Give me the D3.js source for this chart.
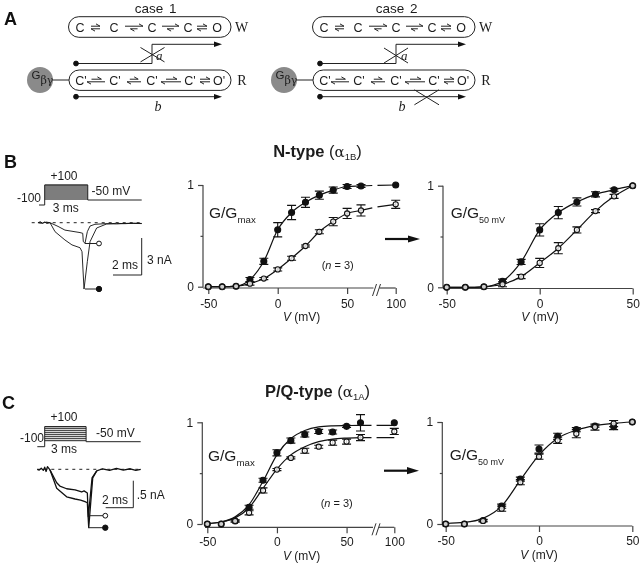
<!DOCTYPE html>
<html>
<head>
<meta charset="utf-8">
<script src="https://cdn.jsdelivr.net/npm/d3@7"></script>
<style>
  html, body { margin: 0; padding: 0; background: #fff; }
  svg { display: block; filter: blur(0.35px); }
  text { font-family: "Liberation Sans", Arial, sans-serif; fill: #1c1c1c; }
  .serif { font-family: "Liberation Serif", "Times New Roman", serif; }
  .panel-label { font-size: 18px; font-weight: bold; fill: #111; }
  .axis text { font-size: 12px; }
  .axis path { display: none; }
  .axis line, .axis-line { stroke: #444; stroke-width: 1.2; }
  .pill { fill: #fff; stroke: #222; stroke-width: 1; }
  .route { fill: none; stroke: #222; stroke-width: 1; }
</style>
</head>
<body>
<svg id="chart" width="640" height="563" viewBox="0 0 640 563"></svg>
<script>
// G/Gmax voltages, 60 -> 100 mV sits across an axis break
const voltsMax = [-50, -40, -30, -20, -10, 0, 10, 20, 30, 40, 50, 60, 100];
const volts50 = [-50, -40, -30, -20, -10, 0, 10, 20, 30, 40, 50];
const axisTicksMax = [-50, 0, 50, 100];
const axisTicks50 = [-50, 0, 50];
const yTicks = [0, 0.5, 1];

// panel B, N-type
const nMaxClosed = [0, 0, 0.005, 0.07, 0.25, 0.56, 0.73, 0.83, 0.9, 0.95, 0.985, 0.99, 1];
const nMaxClosedErr = [0, 0, 0, 0.02, 0.03, 0.07, 0.07, 0.05, 0.04, 0.03, 0.02, 0.015, 0];
const nMaxOpen = [0, 0, 0.005, 0.03, 0.08, 0.17, 0.28, 0.4, 0.54, 0.64, 0.72, 0.75, 0.81];
const nMaxOpenErr = [0, 0, 0, 0.015, 0.01, 0.015, 0.02, 0.01, 0.02, 0.04, 0.05, 0.055, 0.04];
const n50Closed = [0, 0, 0.005, 0.06, 0.25, 0.565, 0.735, 0.84, 0.915, 0.96, 1];
const n50ClosedErr = [0, 0, 0, 0.02, 0.025, 0.06, 0.06, 0.04, 0.025, 0.015, 0];
const n50Open = [0, 0, 0.005, 0.03, 0.105, 0.24, 0.385, 0.565, 0.75, 0.895, 1];
const n50OpenErr = [0, 0, 0, 0.025, 0.02, 0.045, 0.055, 0.03, 0.015, 0.02, 0];

// panel C, P/Q-type
const pMaxClosed = [0, 0, 0.03, 0.165, 0.43, 0.7, 0.82, 0.88, 0.91, 0.905, 0.96, 0.995, 0.995];
const pMaxClosedErr = [0, 0, 0.01, 0.02, 0.02, 0.03, 0.025, 0.025, 0.02, 0.02, 0.01, 0.08, 0];
const pMaxOpen = [0, 0, 0.03, 0.11, 0.33, 0.535, 0.65, 0.72, 0.76, 0.8, 0.81, 0.85, 0.91];
const pMaxOpenErr = [0, 0, 0.01, 0.02, 0.025, 0.01, 0.01, 0.025, 0.015, 0.025, 0.025, 0.03, 0.03];
const p50Closed = [0, 0, 0.035, 0.175, 0.44, 0.735, 0.86, 0.925, 0.96, 0.955, 1];
const p50ClosedErr = [0, 0, 0.01, 0.02, 0.02, 0.04, 0.03, 0.02, 0.01, 0.03, 0];
const p50Open = [0, 0, 0.03, 0.15, 0.41, 0.66, 0.82, 0.885, 0.95, 0.985, 1];
const p50OpenErr = [0, 0, 0.01, 0.025, 0.025, 0.025, 0.03, 0.04, 0.03, 0.03, 0];

// drawn fit curves, null = gap at the axis break
const fitVoltsMax = [-50, -40, -30, -20, -10, 0, 10, 20, 30, 40, 50, 60, 73, 75, 79, 100];
const fitNClosed = [0, 0, 0.005, 0.07, 0.25, 0.56, 0.73, 0.83, 0.9, 0.95, 0.985, 0.99, 0.995, null, 0.997, 1];
const fitNOpen = [0, 0, 0.005, 0.03, 0.08, 0.17, 0.28, 0.4, 0.54, 0.64, 0.72, 0.75, 0.775, null, 0.785, 0.81];
const fitPClosed = [0.005, 0.02, 0.07, 0.19, 0.42, 0.68, 0.84, 0.92, 0.955, 0.965, 0.968, 0.97, 0.97, null, 0.97, 0.97];
const fitPOpen = [0.005, 0.02, 0.06, 0.16, 0.35, 0.54, 0.68, 0.76, 0.81, 0.835, 0.845, 0.85, 0.85, null, 0.85, 0.85];
const fitP50 = [0.005, 0.015, 0.055, 0.175, 0.43, 0.675, 0.84, 0.92, 0.965, 0.987, 1];

// current traces, ms after step onset and nA of inward current
const traceNClosedT = [-0.47, -0.3, -0.15, 0, 0.15, 0.37, 0.72, 1.41, 1.9, 2.46, 2.6, 2.74, 2.97, 3.16, 3.62, 4.32, 5, 5.6, 6.2, 6.76];
const traceNClosedI = [0, -0.08, 0.05, -0.06, 0.06, 0, 0.73, 1.4, 1.8, 2.03, 2.35, 5.38, 3.16, 1.54, 0.43, 0.1, 0.05, 0.08, 0.04, 0.06];
const traceNOpenT = [-0.47, -0.2, 0.1, 0.37, 0.93, 1.41, 2.46, 2.65, 2.69, 2.81, 2.97, 3.16, 3.5, 4.2, 5, 5.8, 6.76];
const traceNOpenI = [0, 0.05, -0.05, 0, 0.3, 0.6, 0.8, 0.86, 1.54, 1.67, 0.73, 0.27, 0.13, 0.08, 0.1, 0.05, 0.07];
const tracePClosedT = [-0.54, -0.4, -0.25, -0.1, 0, 0.1, 0.2, 0.38, 0.87, 1.1, 1.59, 2.2, 2.6, 2.92, 3.09, 3.19, 3.48, 3.77, 4.2, 4.7, 5.2, 5.7, 6.2, 6.6, 6.96];
const tracePClosedI = [0, 0.015, -0.02, 0.02, -0.04, 0.04, -0.05, 0.01, 0.35, 0.4, 0.51, 0.55, 0.57, 0.6, 0.62, 1.08, 0.16, 0.03, -0.01, 0.02, -0.015, 0.015, -0.01, 0.02, 0];
const tracePOpenT = [0.38, 0.87, 1.1, 1.59, 2.2, 2.68, 2.85, 3.09, 3.16, 3.43, 3.77];
const tracePOpenI = [0.01, 0.25, 0.31, 0.36, 0.38, 0.42, 0.4, 0.44, 0.88, 0.16, 0.03];
const stepVoltages = [100, 80, 60, 40, 20, 0, -20, -40];

const svg = d3.select('#chart');

function txt(parent, x, y, str, size, anchor) {
  return parent.append('text').attr('x', x).attr('y', y).attr('font-size', size)
    .attr('text-anchor', anchor || 'start').text(str);
}

function dot(parent, x, y, r, filled) {
  parent.append('circle').attr('cx', x).attr('cy', y).attr('r', r)
    .attr('fill', filled ? '#111' : '#fff').attr('stroke', '#111').attr('stroke-width', 1);
}

function arrowHead(parent, x, y, len, half) {
  parent.append('path').attr('d', `M${x},${y}L${x - len},${y - half}L${x - len},${y + half}Z`).attr('fill', '#111');
}

function cross(parent, cx, cy, w, h) {
  parent.append('path').attr('class', 'route').attr('stroke-width', 1.2)
    .attr('d', `M${cx - w},${cy - h}L${cx + w},${cy + h}M${cx - w},${cy + h}L${cx + w},${cy - h}`);
}

// each step: x range, top harpoon start, bottom harpoon right end and left tip (fractions of the range)
function schemeRow(g, y, labels, labelXs, steps) {
  labels.forEach((l, i) => txt(g, labelXs[i], y + 4.5, l, 12.5, 'middle'));
  steps.forEach(([x1, x2, topFrom, topTo, botRight, botLeft]) => {
    const w = x2 - x1;
    g.append('path').attr('fill', 'none').attr('stroke', '#222').attr('stroke-width', 1)
      .attr('d', `M${x1 + w * topFrom},${y - 1.3}H${x1 + w * topTo}l-4,-2.3`
        + `M${x1 + w * botRight},${y + 1.3}H${x1 + w * botLeft}l4,2.3`);
  });
}

function drawScheme(dx, caseLabel, labelDx, crossA, crossB, bLabelX, aLabelX) {
  const g = svg.append('g').attr('transform', `translate(${dx},0)`);
  txt(g, 155.7 + labelDx, 13, caseLabel, 13.5, 'middle').attr('word-spacing', 2);
  g.append('rect').attr('class', 'pill').attr('x', 68.5).attr('y', 16.7).attr('width', 162.5).attr('height', 20.6).attr('rx', 10.3);
  g.append('rect').attr('class', 'pill').attr('x', 69).attr('y', 70).attr('width', 162).attr('height', 20.4).attr('rx', 10.2);
  schemeRow(g, 27.5, ['C', 'C', 'C', 'C', 'O'], [80, 114, 152, 188, 217],
    [[91, 100, 0, 1, 1, 0], [125, 143, 0, 1, 0.7, 0.3], [162, 179, 0, 1, 0.7, 0.3], [197, 207, 0, 1, 1, 0]]);
  schemeRow(g, 80.5, ["C'", "C'", "C'", "C'", "O'"], [81, 115, 152, 190, 219],
    [[87, 105, 0.25, 0.8, 1, 0], [127, 141, 0.2, 0.8, 1, 0], [161, 181, 0.25, 0.8, 1, 0], [200, 210, 0, 1, 1, 0]]);
  txt(g, 241.5, 32, 'W', 14, 'middle').attr('class', 'serif');
  txt(g, 242, 85, 'R', 14, 'middle').attr('class', 'serif');

  // pathway a
  g.append('path').attr('class', 'route').attr('d', 'M76,63.5H152V44.3H218');
  arrowHead(g, 222, 44.3, 8, 2.8);
  dot(g, 76, 63.5, 2.4, true);
  txt(g, aLabelX, 60, 'a', 13).attr('class', 'serif').attr('font-style', 'italic');
  cross(g, crossA[0], crossA[1], crossA[2], crossA[3]);

  // pathway b
  g.append('path').attr('class', 'route').attr('d', 'M76,96.7H218');
  arrowHead(g, 222, 96.7, 8, 2.8);
  dot(g, 76, 96.7, 2.4, true);
  txt(g, bLabelX, 111, 'b', 14, 'middle').attr('class', 'serif').attr('font-style', 'italic');
  if (crossB) cross(g, crossB[0], crossB[1], crossB[2], crossB[3]);

  // G protein
  g.append('line').attr('x1', 52).attr('x2', 69).attr('y1', 80).attr('y2', 80).attr('stroke', '#222');
  g.append('circle').attr('cx', 40).attr('cy', 80).attr('r', 13).attr('fill', '#8a8a8a');
  const gb = g.append('text').attr('x', 31.5).attr('y', 79).attr('font-size', 11.5).text('G');
  gb.append('tspan').attr('dy', 5).attr('font-size', 11).attr('font-family', 'DejaVu Serif').text('βγ');
}

function drawCurves(o) {
  const g = svg.append('g');
  const x = d3.scaleLinear().domain(o.xDomain).range(o.xRange);
  const y = d3.scaleLinear().domain([0, 1]).range([o.y0, o.y1]);

  const xAxis = g.append('g').attr('class', 'axis')
    .attr('transform', `translate(0,${o.axisY})`)
    .call(d3.axisBottom(x).tickValues(o.xTicks).tickSize(6).tickPadding(5).tickFormat((d) => String(d)));
  xAxis.selectAll('text').attr('dy', 0).attr('y', o.labelY - o.axisY);

  const yAxis = g.append('g').attr('class', 'axis')
    .attr('transform', `translate(${o.axisX},0)`)
    .call(d3.axisLeft(y).tickValues(yTicks).tickSize(5).tickPadding(4).tickFormat((d) => (d === 0.5 ? '' : d)));
  yAxis.selectAll('.tick').filter((d) => d === 0.5).select('line').attr('x2', -2.5);

  g.append('line').attr('class', 'axis-line').attr('x1', o.axisX).attr('x2', o.axisX).attr('y1', o.y1).attr('y2', o.y0 + 0.5);
  if (o.breakAt) {
    g.append('line').attr('class', 'axis-line').attr('x1', o.xStart).attr('x2', o.breakAt - 2).attr('y1', o.axisY).attr('y2', o.axisY);
    g.append('line').attr('class', 'axis-line').attr('x1', o.breakAt + 4).attr('x2', o.xRange[o.xRange.length - 1]).attr('y1', o.axisY).attr('y2', o.axisY);
    g.append('path').attr('fill', 'none').attr('stroke', '#333').attr('stroke-width', 1)
      .attr('d', `M${o.breakAt - 3},${o.axisY + 8}L${o.breakAt + 1},${o.axisY - 4}M${o.breakAt + 1},${o.axisY + 8}L${o.breakAt + 5},${o.axisY - 4}`);
  } else {
    g.append('line').attr('class', 'axis-line').attr('x1', o.xStart).attr('x2', o.xRange[o.xRange.length - 1]).attr('y1', o.axisY).attr('y2', o.axisY);
  }

  const line = d3.line()
    .defined((d) => d[1] !== null)
    .x((d) => x(d[0]))
    .y((d) => y(d[1]))
    .curve(d3.curveMonotoneX);
  o.fits.forEach((fit) => {
    g.append('path').attr('fill', 'none').attr('stroke', '#111').attr('stroke-width', 1.2)
      .attr('d', line(o.fitVolts.map((v, i) => [v, fit[i]])));
  });

  o.series.forEach((s) => {
    const pts = o.volts.map((v, i) => ({ v, m: s.values[i], e: s.errors[i] }));
    const marks = g.append('g');
    marks.selectAll('path.err').data(pts.filter((d) => d.e > 0)).join('path')
      .attr('class', 'err').attr('fill', 'none').attr('stroke', '#111').attr('stroke-width', 1.1)
      .attr('d', (d) => {
        const cx = x(d.v);
        const lo = y(d.m - d.e);
        const hi = y(d.m + d.e);
        return `M${cx - 4.5},${hi}H${cx + 4.5}M${cx},${hi}V${lo}M${cx - 4.5},${lo}H${cx + 4.5}`;
      });
    marks.selectAll('circle').data(pts).join('circle')
      .attr('cx', (d) => x(d.v))
      .attr('cy', (d) => y(d.m))
      .attr('r', s.filled ? 3 : 2.6)
      .attr('fill', s.filled ? '#111' : '#fff')
      .attr('fill-opacity', s.filled ? 1 : 0.8)
      .attr('stroke', '#111')
      .attr('stroke-width', 1.1);
  });

  // axis and ratio labels
  const vLabel = g.append('text').attr('x', o.vLabelX).attr('y', o.vLabelY).attr('text-anchor', 'middle').attr('font-size', 12);
  vLabel.append('tspan').attr('font-style', 'italic').text('V');
  vLabel.append('tspan').text(' (mV)');
  const ratio = g.append('text').attr('x', o.ratioX).attr('y', o.ratioY).attr('font-size', 15.5).text('G/G');
  ratio.append('tspan').attr('dy', 4.5).attr('font-size', o.subSize).text(o.sub);
  if (o.nLabel) {
    const n = g.append('text').attr('x', o.nLabel[0]).attr('y', o.nLabel[1]).attr('text-anchor', 'middle').attr('font-size', 11);
    n.append('tspan').text('(');
    n.append('tspan').attr('font-style', 'italic').text('n');
    n.append('tspan').text(' = 3)');
  }
}

function drawRecording(o) {
  const g = svg.append('g');
  const v = d3.scaleLinear().domain([-100, 100]).range([o.stimBase + 5, o.stimBase - 15]);
  const t = d3.scaleLinear().domain([0, 2]).range([44.7, 44.7 + o.pxPer2ms]);
  const amp = d3.scaleLinear().domain([0, 1]).range([o.baseY, o.baseY + o.pxPerNa]);

  // step protocol
  if (o.boxFill) {
    g.append('rect').attr('x', t(0)).attr('y', v(100)).attr('width', t(3) - t(0)).attr('height', v(-50) - v(100)).attr('fill', o.boxFill);
  }
  stepVoltages.forEach((s) => {
    g.append('line').attr('x1', t(0)).attr('x2', t(3)).attr('y1', v(s)).attr('y2', v(s)).attr('stroke', o.stripe).attr('stroke-width', 1);
  });
  g.append('path').attr('fill', 'none').attr('stroke', '#222').attr('stroke-width', 1)
    .attr('d', `M${o.stimStart},${v(-100)}H${t(0)}V${v(100)}H${t(3)}V${v(-50)}H${o.traceEnd}`);
  txt(g, 64, o.plusY, '+100', 12, 'middle');
  txt(g, o.minusX, o.minusY, '-100', 12);
  txt(g, o.fiftyX, o.fiftyY, '-50 mV', 12);
  txt(g, o.msX, o.msY, '3 ms', 12, 'middle');

  g.append('line').attr('x1', o.dashStart).attr('x2', o.traceEnd).attr('y1', o.baseY).attr('y2', o.baseY)
    .attr('stroke', '#222').attr('stroke-dasharray', '3,4');

  const trace = d3.line().x((d) => t(d[0])).y((d) => amp(d[1]));
  o.traces.forEach(([ts, is]) => {
    g.append('path').attr('fill', 'none').attr('stroke', '#111').attr('stroke-width', o.traceWidth)
      .attr('stroke-linejoin', 'round').attr('d', trace(ts.map((d, i) => [d, is[i]])));
  });

  // peak leaders
  g.append('path').attr('fill', 'none').attr('stroke', '#222').attr('d', `M${o.leadX},${o.openY}H${o.markX}M${o.leadX},${o.closedY}H${o.markX}`);
  dot(g, o.markX, o.openY, 2.4, false);
  dot(g, o.markX, o.closedY, 2.7, true);

  // scale bars
  g.append('path').attr('fill', 'none').attr('stroke', '#222')
    .attr('d', `M${o.barX},${o.barTop}V${o.barBottom}H${o.barX - o.pxPer2ms}`);
  txt(g, o.barMsX, o.barMsY, '2 ms', 12, 'middle');
  txt(g, o.naX, o.naY, o.naText, 12);
}

function bigArrow(x1, x2, y) {
  svg.append('line').attr('x1', x1).attr('x2', x2 - 8).attr('y1', y).attr('y2', y).attr('stroke', '#111').attr('stroke-width', 2.2);
  arrowHead(svg, x2, y, 12, 3.6);
}

function title(cx, y, name, sub) {
  const t = svg.append('text').attr('x', cx).attr('y', y).attr('text-anchor', 'middle').attr('font-size', 16.5);
  t.append('tspan').attr('font-weight', 'bold').text(name);
  t.append('tspan').text(' (');
  t.append('tspan').attr('font-family', 'DejaVu Serif').attr('font-size', 15).text('α');
  t.append('tspan').attr('dy', 3.5).attr('font-size', 9.5).text(sub);
  t.append('tspan').attr('dy', -3.5).text(')');
}

// panel A
txt(svg, 4, 25, 'A', 18).attr('class', 'panel-label');
drawScheme(0, 'case 1', 0, [152.5, 54.7, 12, 7.2], null, 158, 156);
drawScheme(244, 'case 2', -3, [152, 55.5, 12, 7.5], [182.7, 97.3, 12.3, 7.5], 158, 157);

// panel B
txt(svg, 4, 168, 'B', 18).attr('class', 'panel-label');
title(317.5, 156.7, 'N-type', '1B');
drawRecording({
  stimBase: 200, stimStart: 39, traceEnd: 141.7, boxFill: '#a0a0a0', stripe: '#5a5a5a',
  plusY: 180, minusX: 17, minusY: 202, fiftyX: 91.5, fiftyY: 195, msX: 65.7, msY: 212,
  baseY: 222.7, dashStart: 31.7, pxPer2ms: 28.7, pxPerNa: 12.33, traceWidth: 0.9,
  traces: [[traceNClosedT, traceNClosedI], [traceNOpenT, traceNOpenI]],
  leadX: 85, openY: 243.5, closedY: 289, markX: 99,
  barX: 141.7, barTop: 238, barBottom: 275, barMsX: 125, barMsY: 269,
  naX: 147, naY: 264, naText: '3 nA'
});
drawCurves({
  volts: voltsMax, xDomain: [-50, 60, 100], xRange: [208.3, 361, 395.7], xTicks: axisTicksMax,
  y0: 286.7, y1: 185, axisX: 203, axisY: 288, xStart: 203, breakAt: 375.5, labelY: 307.5,
  fitVolts: fitVoltsMax, fits: [fitNClosed, fitNOpen],
  series: [
    { values: nMaxClosed, errors: nMaxClosedErr, filled: true },
    { values: nMaxOpen, errors: nMaxOpenErr, filled: false }
  ],
  vLabelX: 301.7, vLabelY: 321, ratioX: 209, ratioY: 218, sub: 'max', subSize: 9.7, nLabel: [337.7, 269]
});
bigArrow(385, 420, 239);
drawCurves({
  volts: volts50, xDomain: [-50, 50], xRange: [446.7, 632.7], xTicks: axisTicks50,
  y0: 287.3, y1: 185.7, axisX: 443, axisY: 288.5, xStart: 443, labelY: 307.5,
  fitVolts: volts50, fits: [n50Closed, n50Open],
  series: [
    { values: n50Closed, errors: n50ClosedErr, filled: true },
    { values: n50Open, errors: n50OpenErr, filled: false }
  ],
  vLabelX: 540, vLabelY: 321, ratioX: 450.7, ratioY: 218, sub: '50 mV', subSize: 9
});

// panel C
txt(svg, 2, 409, 'C', 18).attr('class', 'panel-label');
title(317.5, 396.7, 'P/Q-type', '1A');
drawRecording({
  stimBase: 441.7, stimStart: 37.3, traceEnd: 140.7, boxFill: null, stripe: '#222',
  plusY: 421, minusX: 20, minusY: 442, fiftyX: 96, fiftyY: 436.7, msX: 64, msY: 453,
  baseY: 469.3, dashStart: 37.3, pxPer2ms: 27.6, pxPerNa: 54, traceWidth: 1.3,
  traces: [[tracePClosedT, tracePClosedI], [tracePOpenT, tracePOpenI]],
  leadX: 89, openY: 515.7, closedY: 527.7, markX: 105.3,
  barX: 133.3, barTop: 480.7, barBottom: 507.7, barMsX: 115, barMsY: 504.3,
  naX: 136.7, naY: 499, naText: '.5 nA'
});
drawCurves({
  volts: voltsMax, xDomain: [-50, 60, 100], xRange: [207.3, 360.5, 394.3], xTicks: axisTicksMax,
  y0: 524, y1: 422.3, axisX: 202.3, axisY: 527.3, xStart: 205, breakAt: 375, labelY: 546.5,
  fitVolts: fitVoltsMax, fits: [fitPClosed, fitPOpen],
  series: [
    { values: pMaxClosed, errors: pMaxClosedErr, filled: true },
    { values: pMaxOpen, errors: pMaxOpenErr, filled: false }
  ],
  vLabelX: 301.7, vLabelY: 559.5, ratioX: 208, ratioY: 461, sub: 'max', subSize: 9.7, nLabel: [336.7, 506.7]
});
bigArrow(384, 419, 470.7);
drawCurves({
  volts: volts50, xDomain: [-50, 50], xRange: [445.7, 632.3], xTicks: axisTicks50,
  y0: 524, y1: 422, axisX: 442.3, axisY: 526, xStart: 442.3, labelY: 545,
  fitVolts: volts50, fits: [fitP50],
  series: [
    { values: p50Closed, errors: p50ClosedErr, filled: true },
    { values: p50Open, errors: p50OpenErr, filled: false }
  ],
  vLabelX: 539, vLabelY: 558.5, ratioX: 449.7, ratioY: 460, sub: '50 mV', subSize: 9
});
</script>
</body>
</html>
